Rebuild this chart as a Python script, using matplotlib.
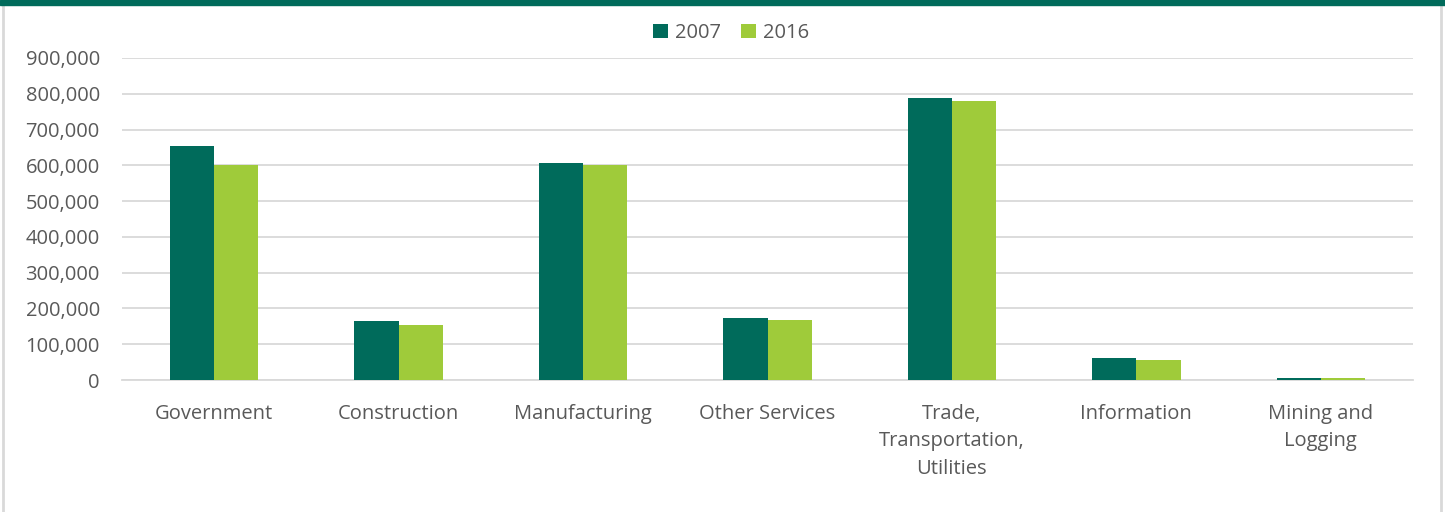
import matplotlib.pyplot as plt
import numpy as np
from matplotlib.ticker import FuncFormatter
from matplotlib.patches import Rectangle
from matplotlib.lines import Line2D

categories = ["Government", "Construction", "Manufacturing", "Other Services",
              "Trade,\nTransportation,\nUtilities", "Information", "Mining and\nLogging"]
y2007 = [655000, 165000, 607000, 174000, 787000, 61000, 5500]
y2016 = [600000, 154000, 600000, 168000, 781000, 56000, 5000]

dark = "#006B5B"
light = "#9FCB3A"
txt = "#595959"
grid = "#D9D9D9"

plt.rcParams['font.family'] = ['Open Sans', 'DejaVu Sans']
fs = 14.5

fig = plt.figure(figsize=(14.45, 5.12), dpi=100)
ax = fig.add_axes([122/1445, 1 - 380/512, (1413 - 122)/1445, (380 - 58)/512])

x = np.arange(len(categories))
w = 0.24
ax.bar(x - w/2, y2007, w, color=dark, label="2007", zorder=3)
ax.bar(x + w/2, y2016, w, color=light, label="2016", zorder=3)

ax.set_xlim(-0.5, len(categories) - 0.5)
ax.set_ylim(0, 900000)
ax.set_yticks(range(0, 900001, 100000))
ax.yaxis.set_major_formatter(FuncFormatter(lambda v, p: f"{int(v):,}"))
ax.grid(axis='y', color=grid, linewidth=1.3, zorder=0)
ax.set_xticks(x)
ax.set_xticklabels(categories, fontsize=fs, color=txt, linespacing=1.5, va='top')
ax.tick_params(axis='x', length=0, pad=17)
ax.tick_params(axis='y', length=0, pad=16, labelsize=fs, labelcolor=txt)
for s in ['top', 'right', 'left']:
    ax.spines[s].set_visible(False)
ax.spines['bottom'].set_color(grid)
ax.spines['bottom'].set_linewidth(1.3)

fig.legend(*ax.get_legend_handles_labels(), loc='center', bbox_to_anchor=(731/1445, 1 - 33/512),
           ncol=2, frameon=False, fontsize=fs, labelcolor=txt,
           handlelength=0.75, handleheight=0.75, handletextpad=0.35, columnspacing=1.0)

# frame: dark top band and light grey sides
fig.add_artist(Rectangle((0, 1 - 5/512), 1, 5/512, transform=fig.transFigure, color=dark, zorder=5))
fig.add_artist(Line2D([3/1445, 3/1445], [0, 1], transform=fig.transFigure, color=grid, linewidth=2))
fig.add_artist(Line2D([1441/1445, 1441/1445], [0, 1], transform=fig.transFigure, color=grid, linewidth=2))

fig.savefig("out.png", dpi=100)
